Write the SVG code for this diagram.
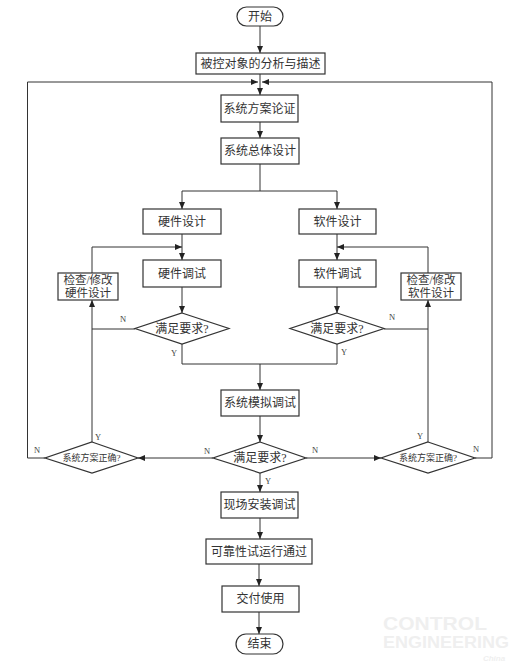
<svg xmlns="http://www.w3.org/2000/svg" width="517" height="666" viewBox="0 0 517 666">
<style>
.b{fill:#fff;stroke:#333;stroke-width:1.2}
.t{font-family:"Liberation Serif","Noto Sans CJK SC",serif;font-size:12px;fill:#333;text-anchor:middle;dominant-baseline:central}
.s{font-size:9px}
.f{font-size:11.5px}
.l{font-family:"Liberation Serif",serif;font-size:8.5px;fill:#444;text-anchor:middle;dominant-baseline:central}
.c{fill:none;stroke:#333;stroke-width:1}
.a{marker-end:url(#ar)}
.w{font-family:"Liberation Sans",sans-serif;font-weight:bold;fill:#efefef}
</style>
<defs>
<marker id="ar" markerWidth="7" markerHeight="6" refX="7" refY="3" orient="auto" markerUnits="userSpaceOnUse">
<path d="M0,0 L7,3 L0,6 z" fill="#222"/>
</marker>
</defs>
<g id="watermark">
<text class="w" x="435" y="630" font-size="19" text-anchor="middle" textLength="104" lengthAdjust="spacingAndGlyphs">CONTROL</text>
<text class="w" x="446" y="648" font-size="16" text-anchor="middle" textLength="126" lengthAdjust="spacingAndGlyphs">ENGINEERING</text>
<text class="w" x="494" y="661" font-size="8" text-anchor="middle" font-style="italic">China</text>
</g>
<g id="connectors">
<path class="c a" d="M260,26 V53"/>
<path class="c a" d="M260,74 V95"/>
<path class="c a" d="M45,458 H27.5 V82 H258"/>
<path class="c a" d="M475,458 H492 V82 H262"/>
<path class="c a" d="M260,122 V138"/>
<path class="c" d="M260,164 V191 M182,191 H337"/>
<path class="c a" d="M182,191 V209"/>
<path class="c a" d="M337,191 V209"/>
<path class="c a" d="M182,234 V260"/>
<path class="c a" d="M337,234 V260"/>
<path class="c a" d="M182,287 V313"/>
<path class="c a" d="M337,287 V313"/>
<path class="c" d="M135,329 H92"/>
<path class="c a" d="M92,442 V300"/>
<path class="c a" d="M92,273 V247 H182"/>
<path class="c" d="M384,329 H428"/>
<path class="c a" d="M428,442 V300"/>
<path class="c a" d="M428,273 V247 H337"/>
<path class="c" d="M182,344 V364 H337 V344"/>
<path class="c a" d="M260,364 V390"/>
<path class="c a" d="M260,416 V442"/>
<path class="c a" d="M213,458 H138"/>
<path class="c a" d="M306,458 H381"/>
<path class="c a" d="M260,473 V492"/>
<path class="c a" d="M260,518 V539"/>
<path class="c a" d="M259,564 V586"/>
<path class="c a" d="M259,612 V634"/>
<text class="l" x="123" y="319">N</text>
<text class="l" x="174" y="353">Y</text>
<text class="l" x="392" y="317">N</text>
<text class="l" x="344" y="352">Y</text>
<text class="l" x="207" y="451">N</text>
<text class="l" x="315" y="450">N</text>
<text class="l" x="268" y="481">Y</text>
<text class="l" x="37" y="450">N</text>
<text class="l" x="98" y="437">Y</text>
<text class="l" x="420" y="436">Y</text>
<text class="l" x="476" y="449">N</text>
</g>
<g id="start"><rect class="b" x="237" y="7" width="46" height="19" rx="9.5"/><text class="t" x="260" y="16.5">开始</text></g>
<g id="analysis"><rect class="b" x="196" y="53" width="129" height="21"/><text class="t" x="260.5" y="63.5">被控对象的分析与描述</text></g>
<g id="scheme"><rect class="b" x="221" y="95" width="77" height="27"/><text class="t" x="259.5" y="108.5">系统方案论证</text></g>
<g id="overall"><rect class="b" x="221" y="138" width="78" height="26"/><text class="t" x="260" y="151">系统总体设计</text></g>
<g id="hwdesign"><rect class="b" x="143" y="209" width="78" height="25"/><text class="t" x="182" y="221.5">硬件设计</text></g>
<g id="swdesign"><rect class="b" x="299" y="209" width="77" height="25"/><text class="t" x="337.5" y="221.5">软件设计</text></g>
<g id="hwdebug"><rect class="b" x="143" y="260" width="78" height="27"/><text class="t" x="182" y="273.5">硬件调试</text></g>
<g id="swdebug"><rect class="b" x="299" y="260" width="77" height="27"/><text class="t" x="337.5" y="273.5">软件调试</text></g>
<g id="hwfix"><rect class="b" x="58" y="273" width="60" height="27"/><text class="t f" x="88" y="280">检查/修改</text><text class="t f" x="88" y="293">硬件设计</text></g>
<g id="swfix"><rect class="b" x="401" y="273" width="60" height="27"/><text class="t f" x="431" y="280">检查/修改</text><text class="t f" x="431" y="293">软件设计</text></g>
<g id="hwcheck"><polygon class="b" points="182,313 229,328.5 182,344 135,328.5"/><text class="t" x="182" y="328.5">满足要求?</text></g>
<g id="swcheck"><polygon class="b" points="337,313 384,328.5 337,344 290,328.5"/><text class="t" x="337" y="328.5">满足要求?</text></g>
<g id="sim"><rect class="b" x="221" y="390" width="78" height="26"/><text class="t" x="260" y="403">系统模拟调试</text></g>
<g id="check"><polygon class="b" points="260,442 306,458 260,473 213,458"/><text class="t" x="260" y="458">满足要求?</text></g>
<g id="leftcheck"><polygon class="b" points="92,442 138,458 92,473 45,458"/><text class="t s" x="91.5" y="458">系统方案正确?</text></g>
<g id="rightcheck"><polygon class="b" points="428,442 475,458 428,473 381,458"/><text class="t s" x="428" y="458">系统方案正确?</text></g>
<g id="install"><rect class="b" x="221" y="492" width="77" height="26"/><text class="t" x="259.5" y="505">现场安装调试</text></g>
<g id="reliability"><rect class="b" x="206" y="539" width="106" height="25"/><text class="t" x="259" y="551.5">可靠性试运行通过</text></g>
<g id="deliver"><rect class="b" x="222" y="586" width="77" height="26"/><text class="t" x="260.5" y="599">交付使用</text></g>
<g id="end"><rect class="b" x="236" y="634" width="47" height="20" rx="10"/><text class="t" x="259.5" y="644">结束</text></g>
</svg>
